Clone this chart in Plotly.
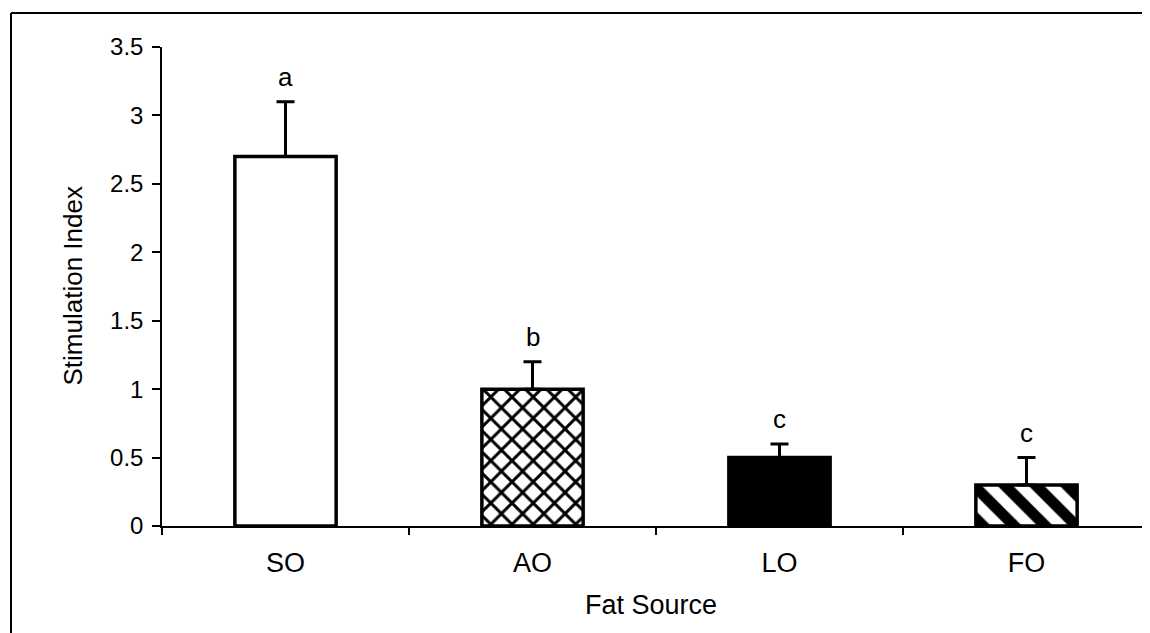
import plotly.graph_objects as go

categories = ["SO", "AO", "LO", "FO"]
values = [2.7, 1.0, 0.5, 0.3]
errors_up = [0.4, 0.2, 0.1, 0.2]
letters = ["a", "b", "c", "c"]
patterns = ["", "x", "", "\\"]
fills = ["white", "white", "black", "white"]
y_ticks = [0, 0.5, 1, 1.5, 2, 2.5, 3, 3.5]
y_tick_text = ["0", "0.5", "1", "1.5", "2", "2.5", "3", "3.5"]

FONT = "Liberation Sans, Arial, sans-serif"
pattern_size = {"x": 15, "\\": 22, "": 10}
pattern_solid = {"x": 0.35, "\\": 0.5, "": 0.3}

# page body has an 8px offset; plot area in figure coords:
L, T, W, H = 154, 39, 988, 479

fig = go.Figure()
for c, v, e, p, f in zip(categories, values, errors_up, patterns, fills):
    marker = dict(color=f, line=dict(color="black", width=3.5), opacity=1)
    if p:
        marker["pattern"] = dict(shape=p, fgcolor="black", bgcolor="white",
                                 fgopacity=1, fillmode="replace",
                                 size=pattern_size[p], solidity=pattern_solid[p])
    fig.add_trace(go.Bar(
        x=[c], y=[v], width=0.41, marker=marker,
        error_y=dict(type="data", array=[e], arrayminus=[0], symmetric=False,
                     color="black", thickness=3, width=9),
        showlegend=False,
    ))

for c, v, e, t in zip(categories, values, errors_up, letters):
    fig.add_annotation(x=c, y=v + e, text=t, showarrow=False,
                       yanchor="middle", yshift=25,
                       font=dict(family=FONT, size=26, color="black"))

fig.add_annotation(xref="paper", yref="paper", x=(64 - L) / W, y=0.5,
                   text="Stimulation Index", textangle=-90, showarrow=False,
                   xanchor="center", yanchor="middle",
                   font=dict(family=FONT, size=26, color="black"))
fig.add_annotation(xref="paper", yref="paper", x=(643 - L) / W, y=(T + H - 597) / H,
                   text="Fat Source", showarrow=False,
                   xanchor="center", yanchor="middle",
                   font=dict(family=FONT, size=27, color="black"))

# figure border (left and top)
bx = (3 - L) / W
by = (T + H - 5) / H
fig.add_shape(type="line", xref="paper", yref="paper",
              x0=bx, x1=bx, y0=(T + H - 650) / H, y1=by,
              line=dict(color="black", width=2))
fig.add_shape(type="line", xref="paper", yref="paper",
              x0=bx, x1=(1160 - L) / W, y0=by, y1=by,
              line=dict(color="black", width=2))

fig.update_layout(
    width=1150, height=633,
    margin=dict(l=L, r=1150 - L - W, t=T, b=633 - T - H),
    plot_bgcolor="white", paper_bgcolor="white",
    barmode="overlay",
    font=dict(family=FONT, color="black"),
    xaxis=dict(range=[-0.5, 3.5], showline=True, linecolor="black", linewidth=2,
               ticks="outside", tickson="boundaries", ticklen=7, tickwidth=1.5,
               tickcolor="black", showgrid=False, zeroline=False,
               categoryorder="array", categoryarray=categories,
               tickfont=dict(family=FONT, size=27), ticklabelstandoff=12),
    yaxis=dict(range=[0, 3.5], tickvals=y_ticks, ticktext=y_tick_text,
               showline=True, linecolor="black", linewidth=1.5,
               ticks="outside", ticklen=8, tickwidth=1.5, tickcolor="black",
               showgrid=False, zeroline=False,
               tickfont=dict(family=FONT, size=24), ticklabelstandoff=4),
)

fig.write_html("out.html")
